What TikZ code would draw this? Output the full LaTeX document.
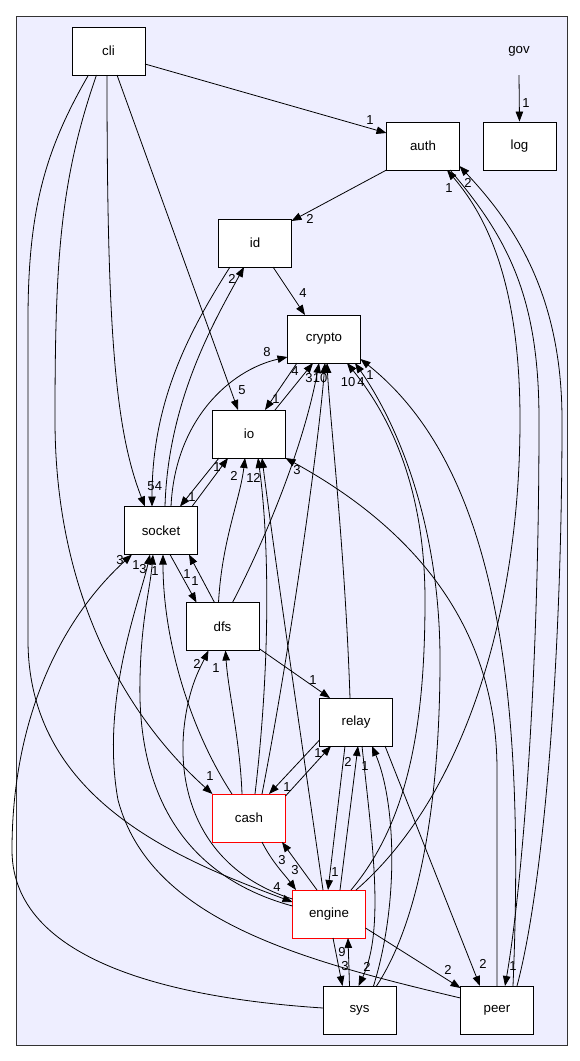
\documentclass[tikz,border=0pt]{standalone}
\usepackage{fontspec}
\setmainfont{Liberation Sans}
\usetikzlibrary{arrows.meta,calc}
\definecolor{clusterfill}{HTML}{EEEEFF}
\begin{document}
\begin{tikzpicture}[x=1pt,y=-1pt,
  dirbox/.style={draw=black, fill=white, line width=0.9pt, minimum width=73pt, minimum height=48pt, inner sep=0pt, font=\fontsize{13.3}{16}\selectfont},
  redbox/.style={dirbox, draw=red},
  plainbox/.style={minimum width=73pt, minimum height=48pt, inner sep=0pt, font=\fontsize{13.3}{16}\selectfont},
  dep/.style={-{Triangle[length=10pt,width=7.5pt]}, line width=0.8pt},
  lbl/.style={inner sep=0pt, font=\fontsize{13}{15}\selectfont}]
\useasboundingbox (0,0) rectangle (579,1061);
\draw[fill=clusterfill, draw=black!80, line width=0.9pt] (16,16) rectangle (567,1045);

% nodes
\node[dirbox] (cli) at (108.5,51) {cli};
\node[plainbox] (gov) at (519,51) {gov};
\node[dirbox] (auth) at (423,146) {auth};
\node[dirbox] (log) at (519.5,146) {log};
\node[dirbox] (id) at (255,243) {id};
\node[dirbox] (crypto) at (324,339) {crypto};
\node[dirbox] (io) at (249,434) {io};
\node[dirbox] (socket) at (161,530.5) {socket};
\node[dirbox] (dfs) at (222.5,626.5) {dfs};
\node[dirbox] (relay) at (356,722) {relay};
\node[redbox] (cash) at (249,818) {cash};
\node[redbox] (engine) at (329,914) {engine};
\node[dirbox] (sys) at (359.5,1010) {sys};
\node[dirbox] (peer) at (497,1010) {peer};

% edges
\draw[dep] (gov.south) -- (log.north);
\draw[dep] ($(cli)+(36.5,13)$) -- ($(auth)+(-36.5,-13)$);
\draw[dep] ($(auth)+(-36.5,24)$) -- ($(id)+(36.5,-22)$);
\draw[dep] ($(cli)+(8.5,24)$) -- ($(io)+(-11,-24)$);
\draw[dep] ($(cli)+(-1.5,24)$) .. controls (107,330) and (115,430) .. ($(socket)+(-16,-24)$);
\draw[dep] ($(cli)+(-12,24)$) .. controls (60,180) and (55,260) .. (55,420) .. controls (55,600) and (130,720) .. ($(cash)+(-36.5,-24)$);
\draw[dep] ($(cli)+(-20,24)$) .. controls (45,150) and (28,210) .. (28,320) -- (28,640) .. controls (28,800) and (180,860) .. ($(engine)+(-36.5,-12)$);
\draw[dep] ($(id)+(18,24)$) -- ($(crypto)+(-19,-24)$);
\draw[dep] ($(id)+(-25,24)$) .. controls (190,330) and (152,400) .. ($(socket)+(-9,-24)$);
\draw[dep] ($(socket)+(4,-24)$) .. controls (168,400) and (215,320) .. ($(id)+(-11,24)$);
\draw[dep] ($(socket)+(10,-24)$) .. controls (175,420) and (230,370) .. ($(crypto)+(-36.5,18)$);
\draw[dep] ($(io)+(26,-24)$) -- ($(crypto)+(-11,24)$);
\draw[dep] ($(crypto)+(-27,24)$) -- ($(io)+(16,-24)$);
\draw[dep] ($(io)+(-30,24)$) -- ($(socket)+(19,-24)$);
\draw[dep] ($(socket)+(31,-24)$) -- ($(io)+(-21,24)$);
\draw[dep] ($(dfs)+(-4,-24)$) .. controls (222,540) and (240,500) .. ($(io)+(-4,24)$);
\draw[dep] ($(cash)+(6,-24)$) .. controls (272,650) and (268,530) .. ($(io)+(9,24)$);
\draw[dep] ($(engine)+(-6,-24)$) .. controls (300,730) and (275,560) .. ($(io)+(13,24)$);
\draw[dep] ($(peer)+(0,-24)$) -- (497,770) .. controls (497,600) and (380,510) .. ($(io)+(36.5,24)$);
\draw[dep] ($(dfs)+(10,-24)$) .. controls (270,530) and (305,440) .. ($(crypto)+(-5,24)$);
\draw[dep] ($(cash)+(13,-24)$) .. controls (290,650) and (318,450) .. ($(crypto)+(1,24)$);
\draw[dep] ($(relay)+(-6,-24)$) .. controls (345,550) and (330,420) .. ($(crypto)+(3,24)$);
\draw[dep] ($(engine)+(22,-24)$) .. controls (410,820) and (425,720) .. (425,600) .. controls (425,480) and (385,410) .. ($(crypto)+(23,24)$);
\draw[dep] ($(sys)+(17,-24)$) .. controls (420,920) and (440,800) .. (440,660) .. controls (440,520) and (395,420) .. ($(crypto)+(31,24)$);
\draw[dep] ($(peer)+(16,-24)$) .. controls (525,700) and (500,470) .. ($(crypto)+(36.5,20)$);
\draw[dep] ($(engine)+(27,-24)$) .. controls (460,800) and (520,620) .. (520,420) .. controls (520,290) and (490,220) .. ($(auth)+(24,24)$);
\draw[dep] ($(auth)+(27,24)$) .. controls (510,240) and (539,300) .. (539,420) .. controls (539,700) and (520,900) .. ($(peer)+(8,-24)$);
\draw[dep] ($(peer)+(20,-24)$) .. controls (545,880) and (562,650) .. (562,420) .. controls (562,290) and (510,220) .. ($(auth)+(36.5,20)$);
\draw[dep] ($(relay)+(29,24)$) -- ($(peer)+(-17,-24)$);
\draw[dep] ($(engine)+(36.5,14)$) -- ($(peer)+(-36.5,-22)$);
\draw[dep] ($(sys)+(-36.5,-2)$) .. controls (200,1000) and (12,970) .. (12,850) .. controls (12,720) and (60,620) .. ($(socket)+(-29,24)$);
\draw[dep] ($(cash)+(-17,-24)$) .. controls (190,730) and (163,640) .. ($(socket)+(2,24)$);
\draw[dep] ($(engine)+(-36.5,-8)$) .. controls (160,870) and (138,760) .. (140,680) .. controls (141,620) and (150,590) .. ($(socket)+(-8,24)$);
\draw[dep] ($(peer)+(-36.5,-12)$) .. controls (300,960) and (150,920) .. (118,800) .. controls (100,700) and (140,600) .. ($(socket)+(-11,24)$);
\draw[dep] ($(socket)+(9,24)$) -- ($(dfs)+(-26,-24)$);
\draw[dep] ($(dfs)+(-8,-24)$) -- ($(socket)+(28,24)$);
\draw[dep] ($(engine)+(-36.5,-15)$) .. controls (200,870) and (175,790) .. (185,720) .. controls (190,685) and (200,668) .. ($(dfs)+(-14,24)$);
\draw[dep] ($(cash)+(-7,-24)$) .. controls (240,740) and (228,690) .. ($(dfs)+(3,24)$);
\draw[dep] ($(dfs)+(36.5,22)$) -- ($(relay)+(-26,-24)$);
\draw[dep] ($(cash)+(36.5,-22)$) -- ($(relay)+(-25,24)$);
\draw[dep] ($(relay)+(-36.5,18)$) -- ($(cash)+(20,-24)$);
\draw[dep] ($(relay)+(-11,24)$) -- ($(engine)+(-1,-24)$);
\draw[dep] ($(engine)+(11,-24)$) -- ($(relay)+(2,24)$);
\draw[dep] ($(relay)+(6,24)$) .. controls (372,840) and (385,930) .. ($(sys)+(-1,-24)$);
\draw[dep] ($(sys)+(14,-24)$) .. controls (400,900) and (395,800) .. ($(relay)+(16,24)$);
\draw[dep] ($(engine)+(4,24)$) -- ($(sys)+(-17,-24)$);
\draw[dep] ($(sys)+(-10,-24)$) -- ($(engine)+(19,24)$);
\draw[dep] ($(engine)+(-12,-24)$) -- ($(cash)+(33,24)$);
\draw[dep] ($(cash)+(13,24)$) .. controls (272,862) and (285,875) .. ($(engine)+(-33,-24)$);

% labels
\node[lbl] (l1) at (526,103) {1};
\node[lbl] (l2) at (370,120) {1};
\node[lbl] (l3) at (449,188) {1};
\node[lbl] (l4) at (468,183) {2};
\node[lbl] (l5) at (310,219) {2};
\node[lbl] (l6) at (232,279) {2};
\node[lbl] (l7) at (303,293) {4};
\node[lbl] (l8) at (267,352) {8};
\node[lbl] (l9) at (242,390) {5};
\node[lbl] (l10) at (295,371) {4};
\node[lbl] (l11) at (276,399) {1};
\node[lbl] (l12) at (309,378) {3};
\node[lbl] (l13) at (320,378) {10};
\node[lbl] (l14) at (348,382) {10};
\node[lbl] (l15) at (361,382) {4};
\node[lbl] (l16) at (370,375) {1};
\node[lbl] (l17) at (151,486) {5};
\node[lbl] (l18) at (158.5,486) {4};
\node[lbl] (l19) at (192,497) {1};
\node[lbl] (l20) at (217,467) {1};
\node[lbl] (l21) at (234,476) {2};
\node[lbl] (l22) at (250,478) {1};
\node[lbl] (l23) at (257,478) {2};
\node[lbl] (l24) at (297,470) {3};
\node[lbl] (l25) at (120,560) {3};
\node[lbl] (l26) at (136,565) {1};
\node[lbl] (l27) at (143,569) {3};
\node[lbl] (l28) at (155,571) {1};
\node[lbl] (l29) at (187,574) {1};
\node[lbl] (l30) at (195,581) {1};
\node[lbl] (l31) at (197,664) {2};
\node[lbl] (l32) at (216,668) {1};
\node[lbl] (l33) at (313,680) {1};
\node[lbl] (l34) at (318,753) {1};
\node[lbl] (l35) at (348,762) {2};
\node[lbl] (l36) at (365,766) {1};
\node[lbl] (l37) at (210,776) {1};
\node[lbl] (l38) at (287,787) {1};
\node[lbl] (l39) at (282,860) {3};
\node[lbl] (l40) at (295,870) {3};
\node[lbl] (l41) at (335,872) {1};
\node[lbl] (l42) at (277,887) {4};
\node[lbl] (l43) at (342,952) {9};
\node[lbl] (l44) at (345,966) {3};
\node[lbl] (l45) at (367,967) {2};
\node[lbl] (l46) at (448,970) {2};
\node[lbl] (l47) at (483,964) {2};
\node[lbl] (l48) at (513,966) {1};
\end{tikzpicture}
\end{document}
